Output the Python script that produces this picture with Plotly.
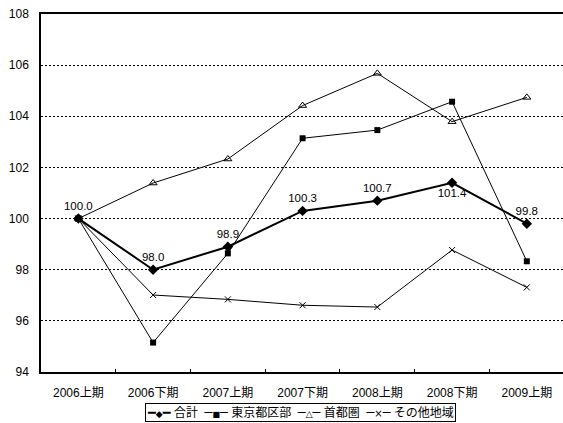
import plotly.graph_objects as go

# Half-year periods and index values (2006上期 = 100)
periods = ["2006上期", "2006下期", "2007上期", "2007下期", "2008上期", "2008下期", "2009上期"]
series_names = ["合計", "東京都区部", "首都圏", "その他地域"]
total = [100.0, 98.0, 98.9, 100.3, 100.7, 101.4, 99.8]
tokyo_wards = [100.0, 95.15, 98.64, 103.14, 103.46, 104.57, 98.33]
capital_area = [100.0, 101.39, 102.33, 104.42, 105.68, 103.79, 104.74]
other_regions = [100.0, 97.01, 96.84, 96.61, 96.54, 98.77, 97.31]

y_ticks = [94, 96, 98, 100, 102, 104, 106, 108]

FONT = "Liberation Sans, Arial, Noto Sans CJK JP, sans-serif"
GLYPH_FONT = "DejaVu Sans"

total_text = [f"{v:.1f}" for v in total]
total_pos = ["top center"] * len(total)
total_pos[5] = "bottom center"

fig = go.Figure()

fig.add_trace(go.Scatter(
    x=periods, y=tokyo_wards, name=series_names[1], mode="lines+markers",
    line=dict(color="black", width=1),
    marker=dict(symbol="square", size=6, color="black"),
))
fig.add_trace(go.Scatter(
    x=periods, y=capital_area, name=series_names[2], mode="lines+markers",
    line=dict(color="black", width=1),
    marker=dict(symbol="triangle-up-open", size=7, color="black", line=dict(width=1)),
))
fig.add_trace(go.Scatter(
    x=periods, y=other_regions, name=series_names[3], mode="lines+markers",
    line=dict(color="black", width=1),
    marker=dict(symbol="x-thin-open", size=6, color="black", line=dict(width=1, color="black")),
))
fig.add_trace(go.Scatter(
    x=periods, y=total, name=series_names[0], mode="lines+markers+text",
    line=dict(color="black", width=2),
    marker=dict(symbol="diamond", size=8, color="black"),
    text=total_text, textposition=total_pos,
    textfont=dict(family=FONT, size=11.5, color="black"),
))


# compact boxed key below the axis: line glyph + marker glyph + series name
def key_glyph(line_char, marker_char, marker_size):
    line = f'<span style="font-family:{GLYPH_FONT};font-size:13px">{line_char}</span>'
    mark = f'<span style="font-family:{GLYPH_FONT};font-size:{marker_size}px">{marker_char}</span>'
    return line + mark + line


NBSP = "\u00a0"
key_parts = [
    (key_glyph("━", "◆", 9), series_names[0]),
    (key_glyph("─", "■", 8), series_names[1]),
    (key_glyph("─", "△", 9), series_names[2]),
    (key_glyph("─", "×", 10), series_names[3]),
]
key_text = (NBSP * 2).join(f"{g}{NBSP}{name}" for g, name in key_parts)

fig.add_annotation(
    xref="paper", yref="paper", x=0.498, y=-0.113,
    xanchor="center", yanchor="middle", showarrow=False,
    text=key_text, font=dict(family=FONT, size=12, color="black"),
    bordercolor="black", borderwidth=1, borderpad=1, bgcolor="white",
)

fig.update_layout(
    width=563, height=423,
    margin=dict(l=41, r=0, t=14, b=51, autoexpand=False),
    paper_bgcolor="white", plot_bgcolor="white",
    font=dict(family=FONT, size=12, color="black"),
    showlegend=False,
    xaxis=dict(
        type="category", categoryorder="array", categoryarray=periods,
        range=[-0.5, 6.484],
        showline=True, linecolor="black", linewidth=1.5, mirror=True,
        ticks="inside", ticklen=3, tickcolor="black", tickson="boundaries",
        showgrid=False, zeroline=False,
        tickfont=dict(family=FONT, size=12, color="black"),
        ticklabelstandoff=9,
    ),
    yaxis=dict(
        range=[94, 108], tickvals=y_ticks,
        showline=True, linecolor="black", linewidth=1.5,
        ticks="", showgrid=True, gridcolor="black", gridwidth=1,
        griddash="2px,2px", zeroline=False,
        tickfont=dict(family=FONT, size=12, color="black"),
        ticklabelstandoff=8,
    ),
)

fig.write_html("out.html")
